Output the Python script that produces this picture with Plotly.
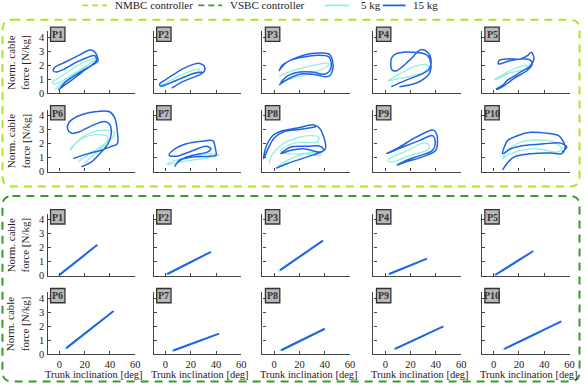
import plotly.graph_objects as go

W, H = 588, 389

participants = ["P1", "P2", "P3", "P4", "P5", "P6", "P7", "P8", "P9", "P10"]
x_ticks = [0, 20, 40, 60]
y_ticks = [0, 1, 2, 3, 4]

# NMBC controller, (trunk inclination [deg], norm. cable force [N/kg])
p1_nmbc_5kg = [(-3.4, 0.23), (2, 0.7), (8, 1.1), (14.9, 1.5), (22, 1.95), (27, 2.3), (28, 2.45), (25.4, 2.42),
               (18, 2.15), (10, 1.7), (3, 1.3), (-2, 1.0), (-5.5, 0.8), (-4, 0.66), (1, 0.8), (8, 1.2),
               (16, 1.65), (24, 2.1), (27, 2.3)]
p1_nmbc_15kg = [(-0.8, 0.23), (4.4, 0.58), (9.7, 0.93), (14.9, 1.28), (20, 1.63), (25.4, 1.98), (29.3, 2.33),
                (28, 2.67), (22.7, 2.56), (13.6, 2.21), (4.4, 1.74), (-2.1, 1.51), (-4.7, 1.58), (-3.4, 1.86),
                (4.4, 2.2), (14.9, 2.67), (24, 3.07), (27.5, 2.98), (29.8, 2.67), (30.6, 2.3), (28, 2.1),
                (20, 1.7), (12, 1.25), (5, 0.8), (0.5, 0.35)]
p2_nmbc_5kg = [(-4.4, 0.51), (2, 0.8), (8.6, 1.12), (15, 1.4), (21.7, 1.63), (26.9, 1.72), (25.6, 1.52),
               (19, 1.3), (13.9, 1.12), (7, 0.85), (1, 0.6), (-2, 0.42)]
p2_nmbc_15kg = [(5, 0.35), (12, 0.75), (20, 1.05), (28, 1.35), (31, 1.6), (30.5, 1.95), (27, 2.12), (22, 2.05),
                (14, 1.75), (6, 1.3), (0, 0.95), (-4.5, 0.65), (-4, 0.5), (0, 0.6), (7, 0.85), (15, 1.15),
                (22, 1.4), (29, 1.5)]
p3_nmbc_5kg = [(3.9, 0.6), (10, 0.9), (20, 1.2), (30, 1.45), (38, 1.7), (43, 2.0), (42, 2.14), (35, 2.05),
               (26, 1.88), (18, 1.7), (10, 1.45), (3.9, 1.16)]
p3_nmbc_15kg = [(3.9, 0.58), (8, 0.85), (14, 1.15), (22, 1.38), (30, 1.35), (36, 1.25), (41, 1.16), (44.5, 1.3),
                (46.5, 1.8), (46, 2.35), (44, 2.75), (38, 2.86), (28, 2.8), (18, 2.55), (10, 2.2), (5, 1.75),
                (4, 1.6), (6, 1.95), (12, 2.3), (22, 2.55), (35, 2.7), (43, 2.6), (45, 2.2), (44, 1.6),
                (40, 1.35), (30, 1.5), (20, 1.5), (10, 1.2), (5, 0.75)]
p4_nmbc_5kg = [(2.1, 0.88), (6, 1.1), (12, 1.4), (19, 1.75), (26, 1.98), (31, 2.05), (34.8, 1.9), (34.3, 1.55),
               (28, 1.4), (20, 1.2), (12, 1.05), (6, 0.95), (2.1, 0.88)]
p4_nmbc_15kg = [(4.7, 0.46), (16.5, 0.93), (29.5, 1.39), (34.8, 1.74), (36.1, 2.44), (33.5, 2.91), (28.2, 3.1),
                (19.1, 2.33), (8.6, 1.58), (5.2, 1.67), (4.7, 2.44), (7.3, 2.75), (13.9, 2.91), (21.7, 2.91),
                (29.5, 2.84), (33.5, 2.68), (36.1, 2.09), (34.8, 1.39), (26.9, 0.81), (19.1, 0.58), (11.2, 0.46)]
p5_nmbc_5kg = [(0.5, 0.98), (5, 1.2), (11, 1.51), (16, 1.72), (21.4, 1.91), (26.7, 1.98), (25.4, 1.75),
               (16.2, 1.51), (10, 1.35), (5.8, 1.12), (1, 0.93)]
p5_nmbc_15kg = [(1.8, 0.28), (7, 0.55), (11, 0.93), (16, 1.2), (21.4, 1.51), (28, 1.86), (31.9, 2.44),
                (29.8, 2.91), (26.7, 2.67), (21.4, 2.44), (11, 2.44), (4.4, 2.33), (3.7, 2.09), (7.1, 2.14),
                (13.6, 2.33), (25.4, 2.44), (29.3, 2.33), (30.6, 2.09), (26.7, 1.63), (16.2, 1.05),
                (7.1, 0.46), (3.1, 0.28)]
p6_nmbc_5kg = [(14.9, 0.7), (20.1, 1.05), (28, 1.52), (35.8, 1.98), (42.4, 2.45), (43.7, 2.8), (35.8, 2.96),
               (25.4, 2.8), (14.9, 2.21), (8.4, 1.52), (9.7, 1.75), (20.1, 2.45), (30.6, 2.63), (38.4, 2.45),
               (37, 2.03), (28, 1.28), (20.1, 0.63)]
p6_nmbc_15kg = [(17.5, 0.35), (25.4, 0.7), (33.2, 1.4), (38.4, 1.98), (41, 2.68), (39.7, 3.38), (35.8, 3.57),
                (25.4, 3.26), (14.9, 2.8), (9.7, 2.73), (6.5, 3.03), (7.6, 3.5), (14.9, 3.96), (28, 4.27),
                (39.7, 4.27), (43.7, 3.85), (45.8, 2.91), (45.8, 1.98), (41, 1.8), (33.2, 1.52), (22.7, 1.28),
                (11, 0.93)]
p7_nmbc_5kg = [(0.8, 0.54), (8.6, 0.82), (21.7, 1.05), (34.8, 1.28), (42.6, 1.17), (34.8, 1.0), (21.7, 0.82),
               (8.6, 0.63), (2, 0.5)]
p7_nmbc_15kg = [(7.3, 0.35), (11.2, 0.82), (21.7, 1.05), (34.8, 1.1), (40, 1.17), (39.5, 1.63), (37.4, 2.21),
                (29.5, 2.17), (16.5, 1.98), (6, 1.52), (2.9, 1.17), (8.6, 1.1), (19, 1.4), (32, 1.8), (36, 1.63),
                (33.5, 1.4), (21.7, 1.17), (13.9, 0.93), (8.6, 0.58)]
p8_nmbc_5kg = [(2.6, 0.35), (10.5, 0.8), (23.5, 1.28), (37.9, 1.33), (36.6, 1.17), (23.5, 1.28), (10.5, 1.28),
               (5.2, 1.5), (10.5, 1.86), (20.9, 2.1), (34, 2.1), (35.3, 2.45), (28.8, 2.56), (15.7, 2.33),
               (5.2, 1.86), (-2.6, 1.05), (-3.9, 0.58)]
p8_nmbc_15kg = [(1.3, 0.23), (10.5, 0.58), (26.1, 1.05), (39.2, 1.52), (36.6, 1.8), (26.1, 1.8), (13.1, 1.75),
                (5.2, 1.28), (13.1, 1.52), (23.5, 1.63), (36.6, 1.4), (40.5, 1.63), (39.2, 2.45), (35.3, 3.15),
                (31.4, 3.33), (18.3, 3.1), (6.5, 2.91), (-1.3, 2.56), (-6.5, 1.75), (-8.4, 0.93), (-5, 1.6),
                (0, 2.4), (8, 2.85), (20, 3.0), (33, 3.2)]
p9_nmbc_5kg = [(3.4, 0.93), (8.6, 1.17), (19, 1.56), (29.5, 2.03), (33.5, 1.98), (34.8, 1.63), (29.5, 1.4),
               (16.5, 1.05), (6, 0.7), (2.1, 0.77), (3.4, 0.93)]
p9_nmbc_15kg = [(0.8, 1.28), (11.2, 1.75), (24.3, 2.45), (37.4, 2.96), (40, 2.8), (41.3, 2.21), (40, 1.52),
                (29.5, 1.05), (16.5, 0.7), (9.2, 0.46), (16.5, 0.8), (24.3, 1.05), (37.4, 1.52), (39.5, 2.1),
                (37.4, 2.56), (26.9, 2.21), (13.9, 1.75), (2, 1.3)]
p10_nmbc_5kg = [(7.1, 0.93), (11, 1.5), (21.4, 2.1), (34.5, 2.26), (47.6, 2.1), (54, 1.63), (50.2, 1.4),
                (34.5, 1.63), (21.4, 1.52), (11, 1.17), (7.1, 0.93)]
p10_nmbc_15kg = [(7.1, 0.12), (11, 0.63), (16.2, 1.05), (29.3, 1.28), (44.9, 1.33), (54, 1.28), (56.6, 1.75),
                 (55.3, 2.1), (51.4, 2.56), (42.3, 2.73), (29.3, 2.8), (18.8, 2.56), (11, 2.21), (8.4, 1.75),
                 (7.1, 1.28), (13.6, 1.63), (24, 1.86), (39.7, 1.98), (52.8, 2.03), (57.9, 1.75), (54, 1.4)]

# VSBC controller
vsbc_5kg_start = [(-0.8, 0.02), (0.3, 0.08), (3.5, 0.33), (1.8, 0.06), (0.3, 0.02),
                  (4.3, 0.37), (5.0, 0.24), (4.3, 0.25), (6.4, 0.34), (7.2, 0.34)]
vsbc_5kg_end = [(20, 1.45), (25, 1.2), (27, 1.75), (23, 0.85), (22, 1.25),
                (30, 2.2), (30, 1.05), (28, 1.3), (32, 1.4), (38, 1.65)]
vsbc_15kg_start = [(0, 0.05), (1.5, 0.12), (4.7, 0.4), (3, 0.12), (1.3, 0.05),
                   (5.5, 0.45), (6.2, 0.28), (5.5, 0.3), (7.7, 0.4), (8.5, 0.4)]
vsbc_15kg_end = [(30, 2.2), (36, 1.7), (38.5, 2.5), (33, 1.22), (31.4, 1.76),
                 (42.9, 3.1), (42.4, 1.48), (40, 1.83), (46, 2.0), (53.5, 2.35)]

nmbc_5kg = [p1_nmbc_5kg, p2_nmbc_5kg, p3_nmbc_5kg, p4_nmbc_5kg, p5_nmbc_5kg,
            p6_nmbc_5kg, p7_nmbc_5kg, p8_nmbc_5kg, p9_nmbc_5kg, p10_nmbc_5kg]
nmbc_15kg = [p1_nmbc_15kg, p2_nmbc_15kg, p3_nmbc_15kg, p4_nmbc_15kg, p5_nmbc_15kg,
             p6_nmbc_15kg, p7_nmbc_15kg, p8_nmbc_15kg, p9_nmbc_15kg, p10_nmbc_15kg]

C_5KG = "#92f0de"
C_15KG = "#1f63e6"
C_NMBC = "#a8e820"
C_VSBC = "#3b9a2c"
AXIS_C = "#444444"
FONT = "Liberation Serif"

col_left = [48, 155, 264.7, 376.7, 486]   # px of each y-axis
row_base = [94.6, 174.3, 280, 360]        # px of each x-axis
AX_W, AX_H = 88.4, 63


def px(x):
    return x / W


def py(y):
    return 1 - y / H


def label(text, x, y, size=11, **kw):
    return dict(text=text, xref="paper", yref="paper", x=px(x), y=py(y), showarrow=False,
                xanchor=kw.pop("xanchor", "center"), yanchor="middle",
                font=dict(family=FONT, size=size, color=kw.pop("color", "#222")), **kw)


fig = go.Figure()
shapes = []
annotations = []

for block in range(2):
    for j, name in enumerate(participants):
        n = block * 10 + j + 1
        row = block * 2 + j // 5
        col = j % 5
        sx = "" if n == 1 else str(n)
        x0 = col_left[col]
        yb = row_base[row]

        fig.update_layout(**{
            f"xaxis{sx}": dict(
                domain=[px(x0), px(x0 + AX_W)], range=[-9.3, 60], anchor=f"y{sx}",
                tickvals=x_ticks, showticklabels=(row == 3), ticks="inside", ticklen=3,
                tickcolor=AXIS_C, showline=True, linecolor=AXIS_C, linewidth=1.3,
                showgrid=False, zeroline=False, tickfont=dict(family=FONT, size=10.5, color="#222"),
            ),
            f"yaxis{sx}": dict(
                domain=[py(yb), py(yb - AX_H)], range=[0, 4.42], anchor=f"x{sx}",
                tickvals=y_ticks, showticklabels=(col == 0), ticks="inside", ticklen=3,
                tickcolor=AXIS_C, showline=True, linecolor=AXIS_C, linewidth=1.3,
                showgrid=False, zeroline=False, tickfont=dict(family=FONT, size=10.5, color="#222"),
            ),
        })

        if block == 0:
            curves = [(nmbc_5kg[j], C_5KG, 1.3), (nmbc_15kg[j], C_15KG, 1.5)]
        else:
            curves = [([vsbc_5kg_start[j], vsbc_5kg_end[j]], C_5KG, 2.0),
                      ([vsbc_15kg_start[j], vsbc_15kg_end[j]], C_15KG, 2.0)]
        for pts, color, width in curves:
            fig.add_trace(go.Scatter(
                x=[p[0] for p in pts], y=[p[1] for p in pts], mode="lines",
                line=dict(color=color, width=width, shape="spline", smoothing=0.9),
                xaxis=f"x{sx}", yaxis=f"y{sx}", showlegend=False, hoverinfo="skip",
            ))

        # panel label box
        bt = yb - 67
        shapes.append(dict(type="rect", xref="paper", yref="paper",
                           x0=px(x0 + 3), x1=px(x0 + 17.5), y0=py(bt + 14.5), y1=py(bt),
                           fillcolor="#b8b8b8", line=dict(color="#333333", width=1.3)))
        annotations.append(label(f"<b>{name}</b>", x0 + 10.3, bt + 7.5, size=10, color="#333"))

        if col == 0:
            annotations.append(label("Norm. cable<br>force [N/kg]", 18, yb - AX_H / 2, textangle=-90))
        if row == 3:
            annotations.append(label("Trunk inclination [deg]", x0 + AX_W / 2 + 3, 380.5, size=10.5))


def rounded_box(x0, y0, x1, y1, r):
    rx, ry = r / W, r / H
    a, b, c, d = px(x0), px(x1), py(y0), py(y1)
    return (f"M {a + rx},{c} L {b - rx},{c} Q {b},{c} {b},{c - ry} "
            f"L {b},{d + ry} Q {b},{d} {b - rx},{d} L {a + rx},{d} "
            f"Q {a},{d} {a},{d + ry} L {a},{c - ry} Q {a},{c} {a + rx},{c} Z")


shapes.append(dict(type="path", xref="paper", yref="paper", path=rounded_box(2.5, 20, 584.5, 189.5, 10),
                   line=dict(color=C_NMBC, width=2, dash="8px,6px"), layer="below"))
shapes.append(dict(type="path", xref="paper", yref="paper", path=rounded_box(2.5, 199, 584.5, 387.5, 10),
                   line=dict(color=C_VSBC, width=2, dash="8px,6px"), layer="below"))

# legend
legend_items = [("NMBC controller", C_NMBC, 83, 108, 114, "6px,4px"),
                ("VSBC controller", C_VSBC, 200, 224, 230, "6px,4px"),
                ("5 kg", C_5KG, 328, 352, 362, "solid"),
                ("15 kg", C_15KG, 386, 409, 415, "solid")]
for text, color, l0, l1, tx, dash in legend_items:
    shapes.append(dict(type="line", xref="paper", yref="paper", x0=px(l0), x1=px(l1), y0=py(5.5), y1=py(5.5),
                       line=dict(color=color, width=1.8, dash=dash)))
    annotations.append(label(text, tx, 5.5, xanchor="left"))

fig.update_layout(
    width=W, height=H, margin=dict(l=0, r=0, t=0, b=0),
    paper_bgcolor="white", plot_bgcolor="white",
    shapes=shapes, annotations=annotations, showlegend=False,
)

# the page body has a default 8px margin; drop it so the figure sits at the window origin
fig.write_html("out.html", config={"displayModeBar": False},
               post_script="document.body.style.margin='0';")
